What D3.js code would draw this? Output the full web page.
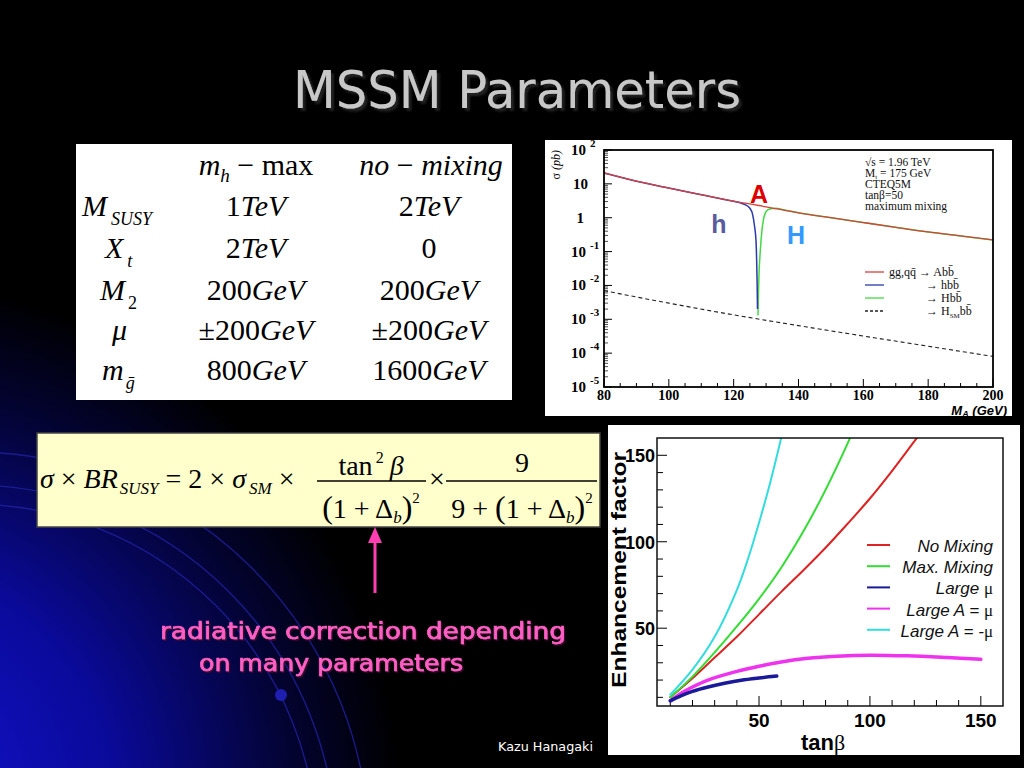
<!DOCTYPE html>
<html><head><meta charset="utf-8">
<script src="https://cdn.jsdelivr.net/npm/d3@7"></script>
<style>body{margin:0;background:#000;overflow:hidden}</style>
</head><body>
<script>
// ---------- DATA: top chart (sigma vs M_A, tan beta = 50, max mixing) ----------
const maA        = [80,90,100,110,120,130,140,150,160,170,180,190,200];
const sigmaA     = [21,12,7.5,4.8,3.1,2.1,1.4,1.0,0.72,0.52,0.38,0.29,0.22];
const maHlight   = [80,90,100,110,120,122,123.5,125,125.8,126.4,126.9,127.1,127.25,127.35];
const sigmaHlight= [21,12,7.5,4.8,3.05,2.75,2.45,1.9,1.3,0.6,0.2,0.05,0.01,0.002];
const maHheavy   = [127.5,127.6,127.8,128.2,128.7,129.2,129.8,130.5,131.5,133,135,140,150,160,170,180,190,200];
const sigmaHheavy= [0.0013,0.004,0.02,0.1,0.4,0.9,1.4,1.7,1.85,1.9,1.75,1.4,1.0,0.72,0.52,0.38,0.29,0.22];
const maSM       = [80,100,120,140,160,180,200];
const sigmaSM    = [7e-3,3e-3,1.35e-3,6.5e-4,3.2e-4,1.6e-4,8e-5];
const topXTicks  = [80,100,120,140,160,180,200];
const topDecades = [-5,-4,-3,-2,-1,0,1,2];
const topNotes   = ["√s = 1.96 TeV","M_t = 175 GeV","CTEQ5M","tanβ=50","maximum mixing"];
const topLegend  = ["→ Abb̄","→ hbb̄","→ Hbb̄","→ H_SM bb̄"];

// ---------- DATA: bottom chart (enhancement factor vs tan beta) ----------
const tanbNoMix  = [10,20,30,40,50,60,70,80,90,100,110,120,123];
const efNoMix    = [10,21,33,45,58,71,83.5,96.5,110.5,125,141,158,163];
const tanbMaxMix = [10,20,30,40,50,60,70,80,90,92];
const efMaxMix   = [10,22,36,51,67,85,106,130,157,163];
const tanbLargeMu= [10,15,20,27,35,42,50,58];
const efLargeMu  = [8,11,13.5,16,18.3,19.9,21.2,22.3];
const tanbAmu    = [10,15,20,27,40,50,60,72,85,100,117,135,150];
const efAmu      = [8,12.5,16,20,25,28,30.5,32.6,33.8,34.4,34,33,32];
const tanbAmmu   = [10,20,30,40,45,50,55,60,62];
const efAmmu     = [11.5,26,45,72,90,111,134,160,171];
const botXTicks  = [50,100,150];
const botYTicks  = [50,100,150];
const botLegend  = ["No Mixing","Max. Mixing","Large μ","Large A = μ","Large A = -μ"];

// ---------- TABLE / FORMULA text ----------
const tableRows  = ["M_SUSY","X_t","M_2","μ","m_ḡ"];
const colMhmax   = ["1TeV","2TeV","200GeV","±200GeV","800GeV"];
const colNoMix   = ["2TeV","0","200GeV","±200GeV","1600GeV"];

const SERIF = "'Liberation Serif','DejaVu Serif',serif";
const SANS  = "'Liberation Sans','DejaVu Sans',sans-serif";

const svg = d3.select('body').append('svg').attr('width',1024).attr('height',768);
const defs = svg.append('defs');

// background
const rg = defs.append('radialGradient').attr('id','bg').attr('gradientUnits','userSpaceOnUse')
  .attr('cx',-120).attr('cy',800).attr('r',520);
rg.append('stop').attr('offset',0).attr('stop-color','#1414d8');
rg.append('stop').attr('offset',0.45).attr('stop-color','#0a0a9a');
rg.append('stop').attr('offset',0.8).attr('stop-color','#030330');
rg.append('stop').attr('offset',1).attr('stop-color','#000');
svg.append('rect').attr('width',1024).attr('height',768).attr('fill','#000');
svg.append('rect').attr('width',1024).attr('height',768).attr('fill','url(#bg)');
[346,365,398].forEach(r=>{
  svg.append('circle').attr('cx',-29).attr('cy',850).attr('r',r)
    .attr('fill','none').attr('stroke','#2020a0').attr('stroke-width',1.4).attr('opacity',0.8);
});
svg.append('circle').attr('cx',281).attr('cy',695).attr('r',6).attr('fill','#1e1eb0');

const sh = defs.append('filter').attr('id','shadow').attr('x','-10%').attr('y','-20%').attr('width','120%').attr('height','150%');
sh.append('feDropShadow').attr('dx',3).attr('dy',3).attr('stdDeviation',1).attr('flood-color','#222').attr('flood-opacity',1);
const sh2 = defs.append('filter').attr('id','shadow2').attr('x','-10%').attr('y','-20%').attr('width','120%').attr('height','150%');
sh2.append('feDropShadow').attr('dx',1.5).attr('dy',1.5).attr('stdDeviation',0.6).attr('flood-color','#3a0a2a').attr('flood-opacity',1);

function rich(sel, x, y, parts, attrs){
  const t = sel.append('text').attr('x',x).attr('y',y);
  Object.entries(attrs||{}).forEach(([k,v])=>t.attr(k,v));
  let prev=0;
  parts.forEach(p=>{
    const ts=t.append('tspan').text(p.t);
    const off=p.off||0;
    if(off!==prev) ts.attr('dy',off-prev);
    prev=off;
    if(p.size) ts.attr('font-size',p.size);
    if(p.it) ts.attr('font-style','italic');
    if(p.up) ts.attr('font-style','normal');
    if(p.fam) ts.attr('font-family',p.fam);
    if(p.dx) ts.attr('dx',p.dx);
    if(p.w) ts.attr('font-weight',p.w);
  });
  return t;
}

// title
svg.append('text').attr('x',517).attr('y',108).attr('text-anchor','middle')
  .attr('font-family',"'DejaVu Sans',sans-serif").attr('font-size',52)
  .attr('fill','#c8c8c8').attr('textLength',448).attr('lengthAdjust','spacingAndGlyphs')
  .attr('filter','url(#shadow)').text('MSSM Parameters');

// ---------- TABLE ----------
const tb = svg.append('g');
tb.append('rect').attr('x',76).attr('y',144).attr('width',436).attr('height',256).attr('fill','#fff');
const tf = {'font-family':SERIF,'font-size':30,'fill':'#000'};
const rowY = [216,258,300,340,380];
rich(tb,256,175,[{t:'m',it:1},{t:'h',it:1,size:19,off:7},{t:' − max',off:0}],Object.assign({'text-anchor':'middle'},tf));
rich(tb,431,175,[{t:'no',it:1},{t:' − ',up:1},{t:'mixing',it:1}],Object.assign({'text-anchor':'middle'},tf));
rich(tb,82,rowY[0],[{t:'M',it:1},{t:'SUSY',it:1,size:18,off:9,dx:4}],tf);
rich(tb,105,rowY[1],[{t:'X',it:1},{t:'t',it:1,size:18,off:9,dx:4}],tf);
rich(tb,100,rowY[2],[{t:'M',it:1},{t:'2',size:18,off:9,dx:3}],tf);
rich(tb,112,rowY[3],[{t:'μ',it:1}],tf);
rich(tb,102,rowY[4],[{t:'m',it:1},{t:'ḡ',it:1,size:18,off:9,dx:2}],tf);
function valueParts(s){
  const m = s.match(/^(±?)([0-9]+)(.*)$/);
  const parts=[];
  if(m[1]) parts.push({t:m[1]});
  parts.push({t:m[2]});
  if(m[3]) parts.push({t:m[3],it:1});
  return parts;
}
colMhmax.forEach((v,i)=>rich(tb,256,rowY[i],valueParts(v),Object.assign({'text-anchor':'middle'},tf)));
colNoMix.forEach((v,i)=>rich(tb,429,rowY[i],valueParts(v),Object.assign({'text-anchor':'middle'},tf)));

// ---------- FORMULA ----------
const fm = svg.append('g');
fm.append('rect').attr('x',37).attr('y',433).attr('width',563).attr('height',94)
  .attr('fill','#ffffcc').attr('stroke','#444').attr('stroke-width',1.5);
const ff = {'font-family':SERIF,'font-size':28,'fill':'#000'};
rich(fm,40,488,[{t:'σ',it:1},{t:' × '},{t:'BR',it:1},{t:'SUSY',it:1,size:17,off:6,dx:2},
  {t:' = 2 × ',off:0},{t:'σ',it:1},{t:'SM',it:1,size:17,off:6,dx:3},{t:' ×',off:0}],ff);
fm.append('line').attr('x1',317).attr('x2',426).attr('y1',481).attr('y2',481).attr('stroke','#000').attr('stroke-width',1.3);
fm.append('line').attr('x1',446).attr('x2',597).attr('y1',481).attr('y2',481).attr('stroke','#000').attr('stroke-width',1.3);
rich(fm,371,475,[{t:'tan'},{t:'2',size:16,off:-12,dx:3},{t:'β',it:1,off:0,dx:6}],Object.assign({'text-anchor':'middle'},ff));
rich(fm,371,518,[{t:'(',size:32},{t:'1 + Δ'},{t:'b',it:1,size:17,off:5},{t:')',size:32,off:0},{t:'2',size:15,off:-15}],Object.assign({'text-anchor':'middle'},ff));
rich(fm,429,488,[{t:'×'}],ff);
rich(fm,522,472,[{t:'9'}],Object.assign({'text-anchor':'middle'},ff));
rich(fm,522,518,[{t:'9 + '},{t:'(',size:32},{t:'1 + Δ'},{t:'b',it:1,size:17,off:5},{t:')',size:32,off:0},{t:'2',size:15,off:-15}],Object.assign({'text-anchor':'middle'},ff));

// pink arrow + text
svg.append('line').attr('x1',375).attr('x2',375).attr('y1',593).attr('y2',540).attr('stroke','#ff3fb0').attr('stroke-width',3);
svg.append('path').attr('d','M375,527 L368,543 L382,543 Z').attr('fill','#ff3fb0');
const pinkAttrs = {'font-family':"'DejaVu Sans',sans-serif",'font-size':23,'fill':'#ff5fc4','stroke':'#ff5fc4','stroke-width':0.7,'filter':'url(#shadow2)'};
const p1 = svg.append('text').attr('x',160).attr('y',639).attr('textLength',406).attr('lengthAdjust','spacingAndGlyphs').text('radiative correction depending');
const p2 = svg.append('text').attr('x',199).attr('y',671).attr('textLength',264).attr('lengthAdjust','spacingAndGlyphs').text('on many parameters');
[p1,p2].forEach(p=>Object.entries(pinkAttrs).forEach(([k,v])=>p.attr(k,v)));
svg.append('text').attr('x',498).attr('y',751).attr('font-family',"'DejaVu Sans',sans-serif").attr('font-size',12)
  .attr('fill','#fff').attr('textLength',95).attr('lengthAdjust','spacingAndGlyphs').text('Kazu Hanagaki');

// ---------- TOP CHART ----------
const tc = svg.append('g');
tc.append('rect').attr('x',545).attr('y',140).attr('width',467).attr('height',276).attr('fill','#fff');
const x1 = d3.scaleLinear().domain([80,200]).range([604,993]);
const y1 = d3.scaleLog().domain([1e-5,1e2]).range([387,150]);
defs.append('clipPath').attr('id','clipTop').append('rect').attr('x',604).attr('y',150).attr('width',389).attr('height',237);
d3.range(80,201,5).forEach(v=>{
  const major = v%20===0;
  tc.append('line').attr('x1',x1(v)).attr('x2',x1(v)).attr('y1',387).attr('y2',387-(major?8:4)).attr('stroke','#000').attr('stroke-width',1);
});
topDecades.forEach(e=>{
  tc.append('line').attr('x1',604).attr('x2',612).attr('y1',y1(Math.pow(10,e))).attr('y2',y1(Math.pow(10,e))).attr('stroke','#000');
  if(e<2) d3.range(2,10).forEach(m=>{
    const yy=y1(m*Math.pow(10,e));
    tc.append('line').attr('x1',604).attr('x2',608).attr('y1',yy).attr('y2',yy).attr('stroke','#000').attr('stroke-width',0.7);
  });
});
const lineTop = d3.line().x(d=>x1(d[0])).y(d=>y1(d[1])).curve(d3.curveMonotoneX);
const zip=(a,b)=>a.map((v,i)=>[v,b[i]]);
const gl = tc.append('g').attr('clip-path','url(#clipTop)');
gl.append('path').attr('d',lineTop(zip(maSM,sigmaSM))).attr('fill','none').attr('stroke','#222').attr('stroke-width',1.1).attr('stroke-dasharray','4,3');
gl.append('path').attr('d',lineTop(zip(maHheavy,sigmaHheavy))).attr('fill','none').attr('stroke','#44d844').attr('stroke-width',1.5);
gl.append('path').attr('d',lineTop(zip(maHlight,sigmaHlight))).attr('fill','none').attr('stroke','#2a3aaa').attr('stroke-width',1.5);
gl.append('path').attr('d',lineTop(zip(maA,sigmaA))).attr('fill','none').attr('stroke','#d9403c').attr('stroke-width',1.3);
tc.append('rect').attr('x',604).attr('y',150).attr('width',389).attr('height',237).attr('fill','none').attr('stroke','#000').attr('stroke-width',1.8);
topXTicks.forEach(v=>{
  tc.append('text').attr('x',x1(v)).attr('y',400).attr('text-anchor','middle')
    .attr('font-family',SERIF).attr('font-weight','bold').attr('font-size',14).text(v);
});
topDecades.forEach(e=>{
  const yy=y1(Math.pow(10,e));
  const g = tc.append('text').attr('font-family',SERIF).attr('font-weight','bold').attr('font-size',15).attr('y',yy+5);
  if(e===0){ g.attr('x',584).attr('text-anchor','end').text('1'); }
  else if(e===1){ g.attr('x',588).attr('text-anchor','end').text('10'); }
  else {
    g.attr('x',586).attr('text-anchor','end').text('10');
    tc.append('text').attr('x',590).attr('y',yy-3).attr('font-family',SERIF).attr('font-weight','bold').attr('font-size',11).text(e>0?String(e):'-'+(-e));
  }
});
rich(tc,560,150,[{t:'σ'},{t:' (pb)',it:1}],{'font-family':SERIF,'font-size':12,'text-anchor':'end','transform':'rotate(-90,560,150)'});
rich(tc,1007,414.5,[{t:'M'},{t:'A',size:9,off:2},{t:' (GeV)',off:0}],{'font-family':SANS,'font-size':13,'font-weight':'bold','font-style':'italic','text-anchor':'end'});
topNotes.forEach((s,i)=>{
  const y=166+i*11;
  const fa={'font-family':SERIF,'font-size':11.5,'fill':'#111'};
  if(s.indexOf('_t')>=0) rich(tc,865,y,[{t:'M'},{t:'t',size:7,off:2},{t:' = 175 GeV',off:0}],fa);
  else rich(tc,865,y,[{t:s}],fa);
});
const legCols=['#d9403c','#2a3aaa','#44d844','#222'];
legCols.forEach((c,i)=>{
  const y=272+i*13;
  tc.append('line').attr('x1',865).attr('x2',884).attr('y1',y).attr('y2',y).attr('stroke',c).attr('stroke-width',1.3)
    .attr('stroke-dasharray',i===3?'3,2':null);
  const fa={'font-family':SERIF,'font-size':12,'fill':'#111'};
  const lab=topLegend[i];
  if(i===0) rich(tc,889,y+4,[{t:'gg,qq̄ '},{t:lab}],fa);
  else if(lab.indexOf('_SM')>=0) rich(tc,926,y+4,[{t:'→ H'},{t:'SM',size:7,off:3},{t:'bb̄',off:0}],fa);
  else rich(tc,926,y+4,[{t:lab}],fa);
});
tc.append('text').attr('x',759).attr('y',203).attr('text-anchor','middle').attr('font-family',SANS).attr('font-weight','bold').attr('font-size',25).attr('fill','#dd0000').text('A');
tc.append('text').attr('x',719).attr('y',233).attr('text-anchor','middle').attr('font-family',SANS).attr('font-weight','bold').attr('font-size',25).attr('fill','#5a5a9e').text('h');
tc.append('text').attr('x',796).attr('y',244).attr('text-anchor','middle').attr('font-family',SANS).attr('font-weight','bold').attr('font-size',25).attr('fill','#3399ff').text('H');

// ---------- BOTTOM CHART ----------
const bc = svg.append('g');
bc.append('rect').attr('x',608).attr('y',425).attr('width',412).attr('height',330).attr('fill','#fff');
const x2 = d3.scaleLinear().domain([4,160]).range([657,1003]);
const y2 = d3.scaleLinear().domain([5,160]).range([706,438]);
defs.append('clipPath').attr('id','clipBot').append('rect').attr('x',657).attr('y',438).attr('width',346).attr('height',268);
d3.range(10,151,10).forEach(v=>{
  const major=v%50===0;
  bc.append('line').attr('x1',x2(v)).attr('x2',x2(v)).attr('y1',706).attr('y2',706-(major?10:6)).attr('stroke','#000').attr('stroke-width',1);
  bc.append('line').attr('x1',657).attr('x2',657+(major?10:6)).attr('y1',y2(v)).attr('y2',y2(v)).attr('stroke','#000').attr('stroke-width',1);
});
const lineBot = d3.line().x(d=>x2(d[0])).y(d=>y2(d[1])).curve(d3.curveCatmullRom);
const gb = bc.append('g').attr('clip-path','url(#clipBot)');
const botSeries = [
  [tanbNoMix,efNoMix,'#dd2222',2],
  [tanbMaxMix,efMaxMix,'#33dd33',2],
  [tanbAmmu,efAmmu,'#33dddd',2],
  [tanbAmu,efAmu,'#ee33ee',3.5],
  [tanbLargeMu,efLargeMu,'#1a1a99',3.5]
];
botSeries.forEach(s=>{
  gb.append('path').attr('d',lineBot(zip(s[0],s[1]))).attr('fill','none').attr('stroke',s[2]).attr('stroke-width',s[3]).attr('stroke-linecap','round');
});
bc.append('rect').attr('x',657).attr('y',438).attr('width',346).attr('height',268).attr('fill','none').attr('stroke','#111').attr('stroke-width',1.5);
botXTicks.forEach(v=>bc.append('text').attr('x',x2(v)).attr('y',727).attr('text-anchor','middle')
  .attr('font-family',SANS).attr('font-weight','bold').attr('font-size',19).text(v));
botYTicks.forEach(v=>bc.append('text').attr('x',655).attr('y',y2(v)+7).attr('text-anchor','end')
  .attr('font-family',SANS).attr('font-weight','bold').attr('font-size',18).text(v));
rich(bc,823,750,[{t:'tan'},{t:'β',fam:SERIF,w:'normal'}],{'font-family':SANS,'font-weight':'bold','font-size':22,'text-anchor':'middle'});
bc.append('text').attr('transform','translate(626,570) rotate(-90)').attr('text-anchor','middle')
  .attr('font-family',SANS).attr('font-weight','bold').attr('font-size',21)
  .attr('textLength',236).attr('lengthAdjust','spacingAndGlyphs').text('Enhancement factor');
const botLegCols=['#dd2222','#33dd33','#1a1a99','#ee33ee','#33dddd'];
botLegend.forEach((s,i)=>{
  const y=545+i*21.2;
  bc.append('line').attr('x1',867).attr('x2',890).attr('y1',y).attr('y2',y).attr('stroke',botLegCols[i]).attr('stroke-width',2);
  const fa={'font-family':SANS,'font-style':'italic','font-size':17,'text-anchor':'end','fill':'#111'};
  const idx=s.indexOf('μ');
  if(idx>=0) rich(bc,993,y+7,[{t:s.slice(0,idx)},{t:'μ',up:1,fam:SERIF}],fa);
  else rich(bc,993,y+7,[{t:s}],fa);
});
</script>
</body></html>
